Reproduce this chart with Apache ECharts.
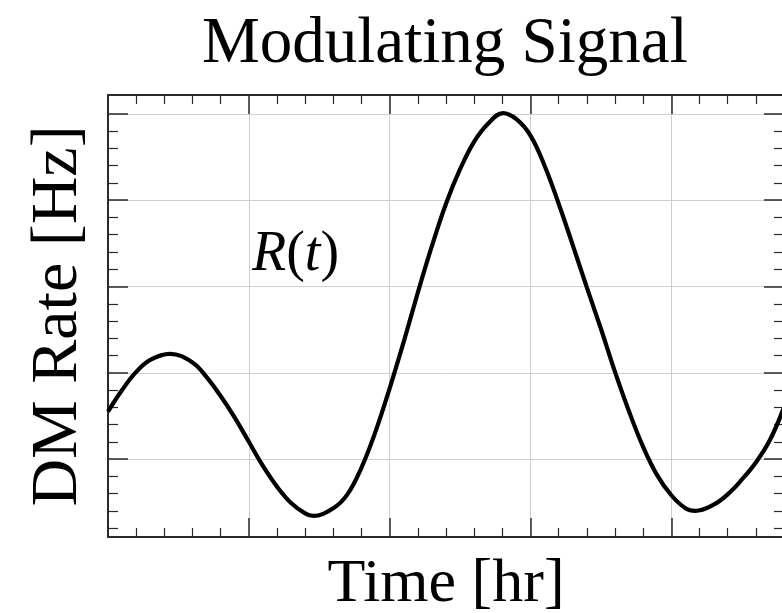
<!DOCTYPE html>
<html>
<head>
<meta charset="utf-8">
<script src="https://cdn.jsdelivr.net/npm/echarts@6/dist/echarts.min.js"></script>
<style>html,body{margin:0;padding:0;background:#fff}#c{width:782px;height:613px}</style>
</head>
<body>
<div id="c"></div>
<script>
// Data (time and rate in grid units; no tick labels are shown)
const timeHr = [0, 0.1, 0.2, 0.3, 0.44, 0.6, 0.7, 0.8, 0.9, 1.0, 1.1, 1.2, 1.3, 1.4, 1.456, 1.6, 1.7, 1.8, 1.9, 2.0, 2.1, 2.2, 2.3, 2.4, 2.5, 2.6, 2.7, 2.805, 2.9, 3.0, 3.1, 3.2, 3.3, 3.4, 3.5, 3.6, 3.7, 3.8, 3.9, 4.0, 4.1, 4.17, 4.3, 4.4, 4.5, 4.6, 4.7, 4.8];
const dmRate = [1.55, 1.8, 2.01, 2.15, 2.22, 2.12, 1.95, 1.73, 1.48, 1.2, 0.92, 0.68, 0.49, 0.37, 0.34, 0.43, 0.59, 0.9, 1.32, 1.82, 2.36, 2.93, 3.47, 3.96, 4.36, 4.68, 4.89, 5.01, 4.94, 4.75, 4.4, 3.96, 3.48, 2.99, 2.51, 2.01, 1.55, 1.14, 0.81, 0.58, 0.43, 0.4, 0.47, 0.59, 0.76, 0.96, 1.22, 1.6];
const yMajorTicks = [1, 2, 3, 4, 5];
const yMinorTicks = [0.2, 0.4, 0.6, 0.8, 1.2, 1.4, 1.6, 1.8, 2.2, 2.4, 2.6, 2.8, 3.2, 3.4, 3.6, 3.8, 4.2, 4.4, 4.6, 4.8];
const titleText = 'Modulating Signal';
const xName = 'Time [hr]';
const yName = 'DM Rate [Hz]';

const serif = '"Liberation Serif", "DejaVu Serif", serif';
const axisColor = '#2a2a2a';
const gridColor = '#cfcfcf';

const points = timeHr.map((t, i) => [t, dmRate[i]]);

function xAx(pos, withSplit, name) {
  return {
    type: 'value', position: pos, min: 0, max: 4.8, interval: 1,
    name: name || '', nameLocation: 'middle', nameGap: 17,
    nameTextStyle: {fontFamily: serif, fontSize: 62, color: '#000', verticalAlign: 'top'},
    axisLine: {show: true, onZero: false, lineStyle: {color: axisColor, width: 2}},
    axisTick: {show: true, inside: true, length: 19, lineStyle: {color: axisColor, width: 1.5}},
    minorTick: {show: true, splitNumber: 5, length: 9, lineStyle: {color: axisColor, width: 1.2}},
    axisLabel: {show: false},
    splitLine: {show: withSplit, lineStyle: {color: gridColor, width: 1}},
    minorSplitLine: {show: false}
  };
}
function yAx(pos, major, withSplit, name) {
  return {
    type: 'value', position: pos, min: 0.096, max: 5.22,
    name: name || '', nameLocation: 'middle', nameGap: 16, nameRotate: 90,
    nameTextStyle: {fontFamily: serif, fontSize: 66, color: '#000'},
    axisLine: {show: major, onZero: false, lineStyle: {color: axisColor, width: 2}},
    axisTick: {show: true, inside: true, length: major ? 20 : 10, customValues: major ? yMajorTicks : yMinorTicks,
      lineStyle: {color: axisColor, width: major ? 1.5 : 1.2}},
    axisLabel: {show: false, customValues: major ? yMajorTicks : yMinorTicks},
    splitLine: {show: withSplit, lineStyle: {color: gridColor, width: 1}}
  };
}

const chart = echarts.init(document.getElementById('c'), null, {renderer: 'canvas'});
chart.setOption({
  backgroundColor: '#fff',
  animation: false,
  title: [
    {text: titleText, left: 197, top: 7, textStyle: {fontFamily: serif, fontSize: 65, fontWeight: 'normal', color: '#000'}},
    {text: '{i|R}{n|(}{i|t}{n|)}', left: 247, top: 222,
      textStyle: {fontWeight: 'normal', rich: {
        i: {fontFamily: serif, fontSize: 56, fontStyle: 'italic', fontWeight: 'normal', color: '#000'},
        n: {fontFamily: serif, fontSize: 56, fontWeight: 'normal', color: '#000'}
      }}}
  ],
  grid: {left: 108, top: 95, width: 676, bottom: 76, containLabel: false, outerBoundsMode: 'none'},
  xAxis: [xAx('bottom', true, xName), xAx('top', false)],
  yAxis: [yAx('left', true, true, yName), yAx('left', false, false), yAx('right', true, false), yAx('right', false, false)],
  series: [{
    type: 'line', xAxisIndex: 0, yAxisIndex: 0, data: points,
    smooth: 0.4, showSymbol: false, symbol: 'none',
    lineStyle: {color: '#000', width: 4.2}
  }]
});
</script>
</body>
</html>
